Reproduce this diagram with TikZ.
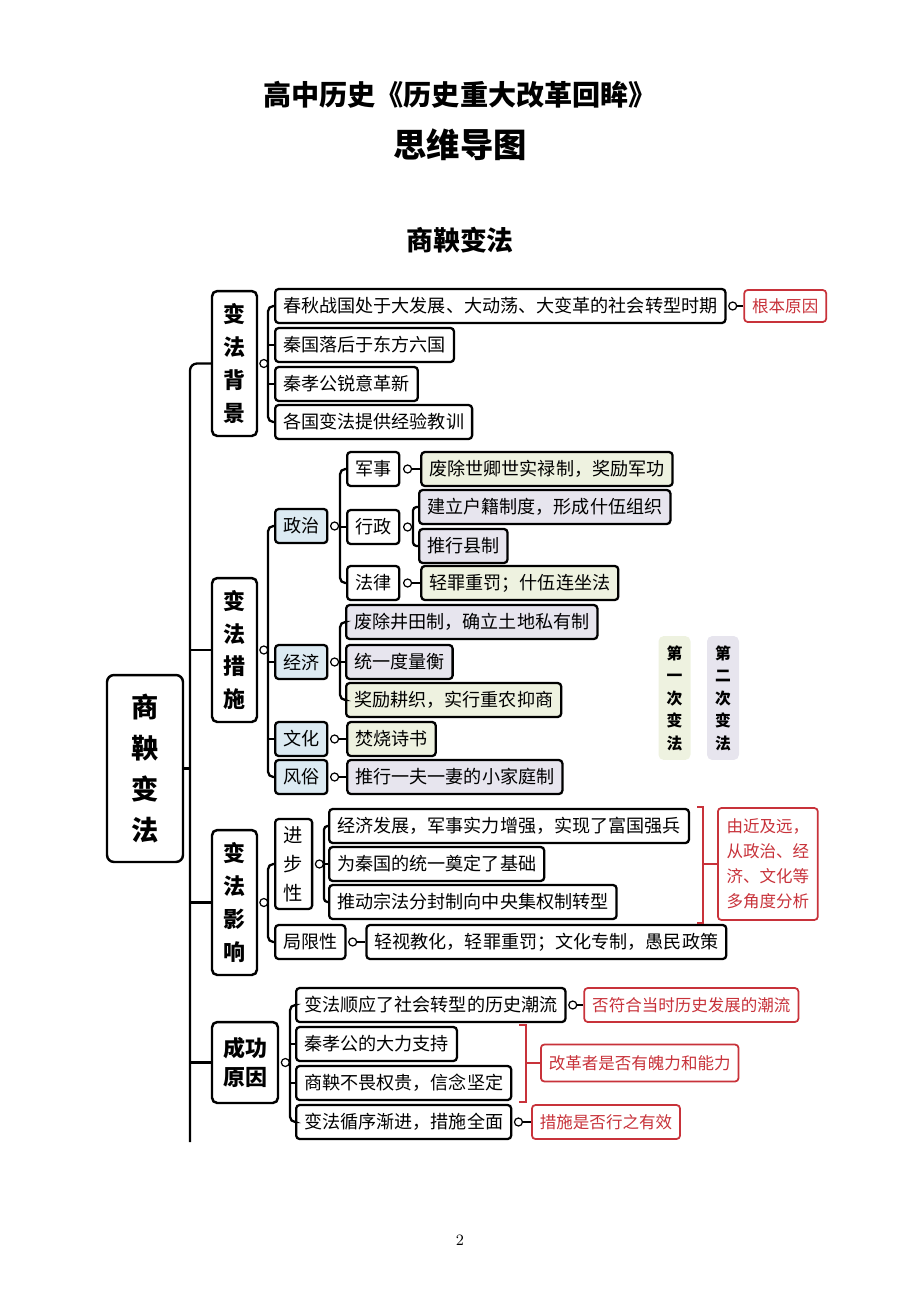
\documentclass[tikz,border=0pt]{standalone}
\usepackage{fontspec}
\newfontfamily\cjk{Noto Sans CJK SC}
\usetikzlibrary{positioning}

\definecolor{zzblue}{HTML}{DCEAF2}
\definecolor{lvgreen}{HTML}{EEF2E0}
\definecolor{lvpurple}{HTML}{E7E5EE}
\definecolor{redc}{HTML}{C8323A}

\begin{document}
\begin{tikzpicture}
    [x=0.02cm,y=-0.02cm,node distance=0.16cm,
    every node/.style={font=\cjk},
    item box/.style={draw,fill=white,line width=1.3pt,rounded corners=2pt,anchor=west,
        inner xsep=0.16cm,inner ysep=0pt,minimum height=0.68cm,
        font=\cjk\fontsize{10.3}{12}\selectfont},
    blue box/.style={item box,fill=zzblue},
    green box/.style={item box,fill=lvgreen},
    purple box/.style={item box,fill=lvpurple},
    head box/.style={draw,fill=white,line width=1.4pt,rounded corners=3pt,inner sep=0pt,
        align=center,font=\cjk\bfseries\fontsize{12.5}{18.7}\selectfont},
    root box/.style={draw,fill=white,line width=1.4pt,rounded corners=4pt,inner sep=0pt,
        align=center,minimum width=1.52cm,minimum height=3.74cm,
        font=\cjk\bfseries\fontsize{15.5}{23.2}\selectfont},
    red note/.style={draw=redc,fill=white,text=redc,line width=1pt,rounded corners=2pt,anchor=west,
        inner xsep=0.16cm,inner ysep=0pt,minimum height=0.64cm,
        font=\cjk\fontsize{9.4}{12}\selectfont},
    tag box/.style={rounded corners=3pt,inner sep=0pt,minimum width=0.64cm,minimum height=2.48cm,
        align=center,font=\cjk\bfseries\fontsize{9}{12.8}\selectfont},
    small dot/.style={circle,draw,fill=white,line width=0.7pt,inner sep=0pt,minimum size=0.16cm},
    branch/.style={line width=1.3pt,rounded corners=3pt},
    red branch/.style={draw=redc,line width=1.2pt}]
    \useasboundingbox (0,0) rectangle (920,1302);
    % 标题
    \node[font=\cjk\bfseries\fontsize{16}{18}\selectfont] (title) at (460,95) {高中历史《历史重大改革回眸》};
    \node[font=\cjk\bfseries\fontsize{19}{22}\selectfont] (subtitle) at (460,145) {思维导图};
    \node[font=\cjk\bfseries\fontsize{15.3}{18}\selectfont] (topic) at (460,240) {商鞅变法};
    % 中心主题和一级主题
    \node[root box] (root) at (145,768.5) {商\\鞅\\变\\法};
    \node[head box,minimum width=0.9cm,minimum height=2.9cm] (bj) at (234.5,363.5) {变\\法\\背\\景};
    \node[head box,minimum width=0.9cm,minimum height=2.88cm] (cs) at (234.5,650) {变\\法\\措\\施};
    \node[head box,minimum width=0.9cm,minimum height=2.9cm] (yx) at (234.5,902.5) {变\\法\\影\\响};
    \node[head box,minimum width=1.32cm,minimum height=1.62cm,
        font=\cjk\bfseries\fontsize{12.5}{17}\selectfont] (cg) at (245,1062.5) {成功\\原因};
    % 主干
    \coordinate (sp) at (190,1142);
    \draw[branch,rounded corners=4pt] (bj.west) -| (sp);
    \foreach \n in {cs,yx,cg}
        \draw[branch] (\n.west) -- (\n.west -| sp);
    \draw[branch] (root.east) -- (root.east -| sp);

    % 变法背景
    \node[small dot,right=0.02cm of bj] (bjc) {};
    \node[item box] (b1) at (274,306) {春秋战国处于大发展、大动荡、大变革的社会转型时期};
    \node[item box] (b2) at (274,345) {秦国落后于东方六国};
    \node[item box] (b3) at (274,384) {秦孝公锐意革新};
    \node[item box] (b4) at (274,422) {各国变法提供经验教训};
    \coordinate (bjk) at (268,363.5);
    \draw[branch] (bjc) -- (bjk);
    \draw[branch] (b1.west) -| (bjk) |- (b4.west);
    \draw[branch] (b2.west) -- (b2.west -| bjk);
    \draw[branch] (b3.west) -- (b3.west -| bjk);
    \node[small dot,right=0.03cm of b1] (b1c) {};
    \node[red note,right=0.12cm of b1c] (gb) {根本原因};
    \draw[branch] (b1c) -- (gb);

    % 变法措施
    \node[small dot,right=0.02cm of cs] (csc) {};
    \node[blue box] (zz) at (274,526) {政治};
    \node[blue box] (jj) at (274,662) {经济};
    \node[blue box] (wh) at (274,739) {文化};
    \node[blue box] (fs) at (274,777) {风俗};
    \coordinate (csk) at (268,651);
    \draw[branch] (csc) -- (csk);
    \draw[branch] (zz.west) -| (csk) |- (fs.west);
    \draw[branch] (jj.west) -- (jj.west -| csk);
    \draw[branch] (wh.west) -- (wh.west -| csk);
    % 政治
    \node[small dot,right=0.03cm of zz] (zzc) {};
    \node[item box] (js) at (346,469) {军事};
    \node[item box] (xz) at (346,527) {行政};
    \node[item box] (fl) at (346,583) {法律};
    \coordinate (zzk) at (340,527);
    \draw[branch] (zzc) -- (zzk);
    \draw[branch] (js.west) -| (zzk) |- (fl.west);
    \draw[branch] (xz.west) -- (zzk);
    \node[small dot,right=0.05cm of js] (jsc) {};
    \node[green box,right=0.16cm of jsc] (js1) {废除世卿世实禄制，奖励军功};
    \draw[branch] (jsc) -- (js1);
    \node[small dot,right=0.05cm of xz] (xzc) {};
    \node[purple box] (xz1) at (418,507) {建立户籍制度，形成什伍组织};
    \node[purple box] (xz2) at (418,546) {推行县制};
    \coordinate (xzk) at (413,527);
    \draw[branch] (xzc) -- (xzk);
    \draw[branch,rounded corners=2pt] (xz1.west) -| (xzk) |- (xz2.west);
    \node[small dot,right=0.05cm of fl] (flc) {};
    \node[green box,right=0.16cm of flc] (fl1) {轻罪重罚；什伍连坐法};
    \draw[branch] (flc) -- (fl1);
    % 经济
    \node[small dot,right=0.03cm of jj] (jjc) {};
    \node[purple box] (jj1) at (345,622) {废除井田制，确立土地私有制};
    \node[purple box] (jj2) at (345,662) {统一度量衡};
    \node[green box] (jj3) at (345,700) {奖励耕织，实行重农抑商};
    \coordinate (jjk) at (340,662);
    \draw[branch] (jjc) -- (jjk);
    \draw[branch] (jj1.west) -| (jjk) |- (jj3.west);
    \draw[branch] (jj2.west) -- (jjk);
    % 文化、风俗
    \node[small dot,right=0.03cm of wh] (whc) {};
    \node[green box,right=0.14cm of whc] (wh1) {焚烧诗书};
    \draw[branch] (whc) -- (wh1);
    \node[small dot,right=0.03cm of fs] (fsc) {};
    \node[purple box,right=0.14cm of fsc] (fs1) {推行一夫一妻的小家庭制};
    \draw[branch] (fsc) -- (fs1);
    % 图例
    \node[tag box,fill=lvgreen] (lg1) at (674.5,698) {第\\一\\次\\变\\法};
    \node[tag box,fill=lvpurple] (lg2) at (723,698) {第\\二\\次\\变\\法};

    % 变法影响
    \node[small dot,right=0.02cm of yx] (yxc) {};
    \node[item box,minimum width=0.74cm,minimum height=1.8cm,inner xsep=0pt,align=center,
        font=\cjk\fontsize{11}{16.5}\selectfont] (jb) at (274,864) {进\\步\\性};
    \node[item box] (jx) at (274,942) {局限性};
    \coordinate (yxk) at (268,903);
    \draw[branch] (yxc) -- (yxk);
    \draw[branch] (jb.west) -| (yxk) |- (jx.west);
    \node[small dot,right=0.03cm of jb] (jbc) {};
    \node[item box] (jb1) at (328,826) {经济发展，军事实力增强，实现了富国强兵};
    \node[item box] (jb2) at (328,864) {为秦国的统一奠定了基础};
    \node[item box] (jb3) at (328,902) {推动宗法分封制向中央集权制转型};
    \coordinate (jbk) at (324,864);
    \draw[branch] (jbc) -- (jbk);
    \draw[branch,rounded corners=2pt] (jb1.west) -| (jbk) |- (jb3.west);
    \draw[branch] (jb2.west) -- (jbk);
    \node[small dot,right=0.03cm of jx] (jxc) {};
    \node[item box,right=0.16cm of jxc] (jx1) {轻视教化，轻罪重罚；文化专制，愚民政策};
    \draw[branch] (jxc) -- (jx1);
    \coordinate (rk1) at (703,864);
    \coordinate (rk1t) at (697,807);
    \coordinate (rk1b) at (697,923);
    \draw[red branch] (rk1t) -| (rk1) |- (rk1b);
    \node[red note,align=center,minimum width=2cm,minimum height=2.24cm,
        font=\cjk\fontsize{9.4}{14.2}\selectfont] (fx) at (717,864) {由近及远，\\从政治、经\\济、文化等\\多角度分析};
    \draw[red branch] (rk1) -- (fx);

    % 成功原因
    \node[small dot,right=0.03cm of cg] (cgc) {};
    \node[item box] (c1) at (295,1005) {变法顺应了社会转型的历史潮流};
    \node[item box] (c2) at (295,1044) {秦孝公的大力支持};
    \node[item box] (c3) at (295,1083) {商鞅不畏权贵，信念坚定};
    \node[item box] (c4) at (295,1122) {变法循序渐进，措施全面};
    \coordinate (cgk) at (290,1062.5);
    \draw[branch] (cgc) -- (cgk);
    \draw[branch] (c1.west) -| (cgk) |- (c4.west);
    \draw[branch] (c2.west) -- (c2.west -| cgk);
    \draw[branch] (c3.west) -- (c3.west -| cgk);
    \node[small dot,right=0.03cm of c1] (c1c) {};
    \node[red note,minimum height=0.68cm,right=0.12cm of c1c] (r1) {否符合当时历史发展的潮流};
    \draw[branch] (c1c) -- (r1);
    \node[small dot,right=0.03cm of c4] (c4c) {};
    \node[red note,minimum height=0.68cm,right=0.16cm of c4c] (r3) {措施是否行之有效};
    \draw[branch] (c4c) -- (r3);
    \coordinate (rk2) at (526,1063);
    \coordinate (rk2t) at (519,1025);
    \coordinate (rk2b) at (519,1102);
    \draw[red branch] (rk2t) -| (rk2) |- (rk2b);
    \node[red note,minimum height=0.74cm] (r2) at (540,1063) {改革者是否有魄力和能力};
    \draw[red branch] (rk2) -- (r2);

    % 页码
    \node[font=\normalfont\fontsize{9}{11}\selectfont] (pg) at (460,1240) {2};
\end{tikzpicture}
\end{document}
